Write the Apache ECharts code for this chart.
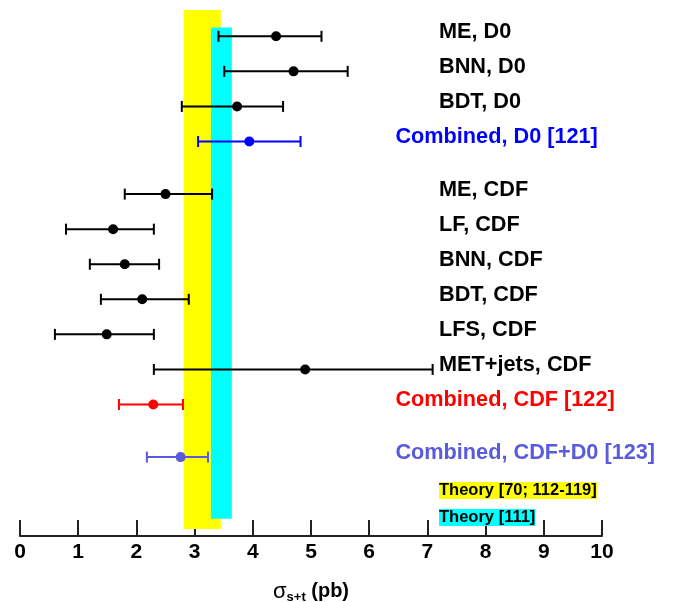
<!DOCTYPE html>
<html>
<head>
<meta charset="utf-8">
<script src="https://cdn.jsdelivr.net/npm/echarts@6/dist/echarts.min.js"></script>
<style>html,body{margin:0;padding:0;background:#fff}#c{width:674px;height:602px}</style>
</head>
<body>
<div id="c"></div>
<script>
// ---- data ----
const measLabels = ['ME, D0','BNN, D0','BDT, D0','ME, CDF','LF, CDF','BNN, CDF','BDT, CDF','LFS, CDF','MET+jets, CDF'];
const measRow    = [0, 1, 2, 4.5, 5.5, 6.5, 7.5, 8.5, 9.5];
const measValue  = [4.40, 4.70, 3.73, 2.50, 1.60, 1.80, 2.10, 1.49, 4.90];
const measLow    = [3.41, 3.51, 2.78, 1.80, 0.79, 1.20, 1.39, 0.60, 2.30];
const measHigh   = [5.18, 5.63, 4.52, 3.30, 2.30, 2.39, 2.90, 2.30, 7.09];

const combLabels = ['Combined, D0 [121]', 'Combined, CDF [122]', 'Combined, CDF+D0 [123]'];
const combRow    = [3, 10.5, 12];
const combValue  = [3.94, 2.29, 2.76];
const combLow    = [3.06, 1.70, 2.18];
const combHigh   = [4.82, 2.80, 3.23];

const theoryLabels = ['Theory [70; 112-119]', 'Theory [111]'];
const theoryRow    = [12.95, 13.72];
const theoryLow    = [2.81, 3.28];
const theoryHigh   = [3.45, 3.64];

const xTicks = [0,1,2,3,4,5,6,7,8,9,10];

// ---- styles ----
const FONT = "'Liberation Sans', Arial, Helvetica, sans-serif";
const combColors = ['#0000ff', '#ff0000', '#5a5adc'];
const theoryColors = ['#ffff00', '#00ffff'];

function errRender(color) {
  return function (params, api) {
    const y = api.value(2);
    const a = api.coord([api.value(0), y]);
    const b = api.coord([api.value(1), y]);
    const h = 5.5;
    const st = {stroke: color, lineWidth: 2};
    return {type: 'group', children: [
      {type: 'line', shape: {x1: a[0], y1: a[1], x2: b[0], y2: b[1]}, style: st},
      {type: 'line', shape: {x1: a[0], y1: a[1]-h, x2: a[0], y2: a[1]+h}, style: st},
      {type: 'line', shape: {x1: b[0], y1: b[1]-h, x2: b[0], y2: b[1]+h}, style: st}
    ]};
  };
}

const series = [];
// theory bands
series.push({
  type: 'scatter', data: [], silent: true,
  markArea: {silent: true, data: [
    [{xAxis: theoryLow[0], yAxis: -0.75, itemStyle: {color: theoryColors[0]}}, {xAxis: theoryHigh[0], yAxis: 14.05}],
    [{xAxis: theoryLow[1], yAxis: -0.25, itemStyle: {color: theoryColors[1]}}, {xAxis: theoryHigh[1], yAxis: 13.76}]
  ], itemStyle: {opacity: 1}},
  z: 1
});
// measurement error bars + points
series.push({
  type: 'custom', renderItem: errRender('#000'), z: 3,
  data: measRow.map((r, i) => [measLow[i], measHigh[i], r])
});
series.push({
  type: 'scatter', symbolSize: 10, itemStyle: {color: '#000', opacity: 1}, z: 4,
  data: measRow.map((r, i) => [measValue[i], r])
});
combRow.forEach((r, i) => {
  series.push({
    type: 'custom', renderItem: errRender(combColors[i]), z: 3,
    data: [[combLow[i], combHigh[i], r]]
  });
  series.push({
    type: 'scatter', symbolSize: 10, itemStyle: {color: combColors[i], opacity: 1}, z: 4,
    data: [[combValue[i], r]]
  });
});
// text labels
const lblBase = {show: true, position: 'right', distance: 0, fontFamily: FONT, fontWeight: 'bold', fontSize: 21.7, offset: [0, -4],
  formatter: p => p.value[2]};
series.push({
  type: 'scatter', symbolSize: 0, z: 5, silent: true, itemStyle: {opacity: 1},
  data: measRow.map((r, i) => [7.2, r, measLabels[i]]),
  label: Object.assign({}, lblBase, {color: '#000'})
});
combRow.forEach((r, i) => {
  series.push({
    type: 'scatter', symbolSize: 0, z: 5, silent: true, itemStyle: {opacity: 1},
    data: [[6.45, r, combLabels[i]]],
    label: Object.assign({}, lblBase, {color: combColors[i]})
  });
});
theoryRow.forEach((r, i) => {
  series.push({
    type: 'scatter', symbolSize: 0, z: 5, silent: true, itemStyle: {opacity: 1},
    data: [[7.2, r, theoryLabels[i]]],
    label: {show: true, position: 'right', distance: 0, fontFamily: FONT, fontWeight: 'bold', fontSize: 16.5,
      color: '#000', backgroundColor: theoryColors[i], padding: [0, 0, 0, 0], lineHeight: 17,
      formatter: p => p.value[2]}
  });
});

const chart = echarts.init(document.getElementById('c'), null, {renderer: 'canvas'});
chart.setOption({
  animation: false,
  backgroundColor: '#fff',
  grid: {left: 20, right: 72, top: 10, bottom: 66, containLabel: false, outerBoundsMode: 'none'},
  xAxis: {
    type: 'value', min: xTicks[0], max: xTicks[xTicks.length-1], interval: 1,
    splitLine: {show: false},
    axisLine: {show: true, onZero: false, lineStyle: {color: '#222', width: 2}},
    axisTick: {show: true, inside: true, length: 16, lineStyle: {color: '#222', width: 2}},
    axisLabel: {color: '#000', fontFamily: FONT, fontWeight: 'bold', fontSize: 21, margin: 6},
    name: '{sig|σ}{sub|s+t}{b| (pb)}',
    nameLocation: 'middle', nameGap: 43,
    nameTextStyle: {rich: {
      sig: {fontFamily: FONT, fontSize: 22, color: '#000'},
      sub: {fontFamily: FONT, fontSize: 13, fontWeight: 'bold', color: '#000', padding: [12, 0, 0, 0]},
      b: {fontFamily: FONT, fontSize: 20, fontWeight: 'bold', color: '#000'}
    }}
  },
  yAxis: {type: 'value', inverse: true, min: -0.75, max: 14.25, interval: 0.25, show: false},
  series: series
});
</script>
</body>
</html>
